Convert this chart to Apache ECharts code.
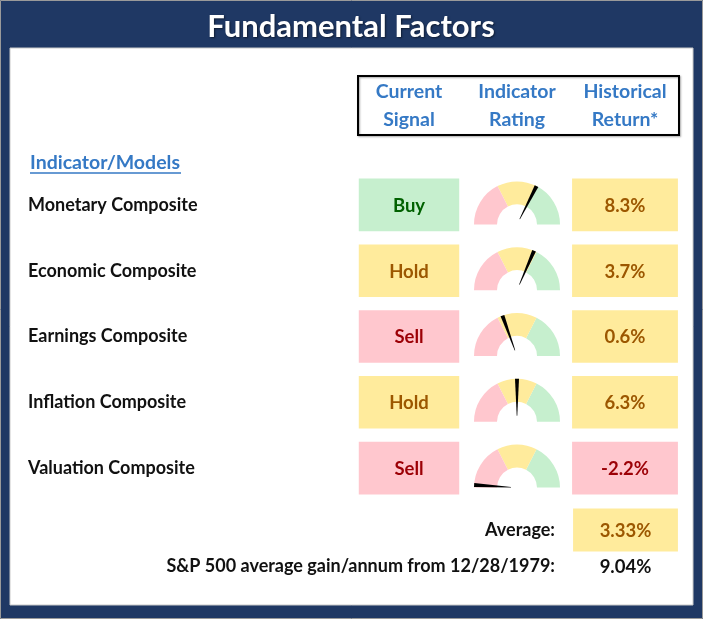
<!DOCTYPE html>
<html><head><meta charset="utf-8">
<script src="https://cdn.jsdelivr.net/npm/echarts@6.0.0/dist/echarts.min.js"></script>
<style>html,body{margin:0;padding:0;background:#1F3864}#c{width:703px;height:619px}</style>
</head><body><div id="c"></div>
<script>
// ---------- data ----------
const title = 'Fundamental Factors';
const headers = ['Current\nSignal', 'Indicator\nRating', 'Historical\nReturn*'];
const sectionLabel = 'Indicator/Models';
const indicators = ['Monetary Composite', 'Economic Composite', 'Earnings Composite', 'Inflation Composite', 'Valuation Composite'];
const signals = ['Buy', 'Hold', 'Sell', 'Hold', 'Sell'];
const ratings = [65, 63, 39, 50, 2];
const returns = [8.3, 3.7, 0.6, 6.3, -2.2];
const ratingBands = [0.35, 0.65, 1];
const footerLabels = ['Average:', 'S&P 500 average gain/annum from 12/28/1979:'];
const footerValues = ['3.33%', '9.04%'];

// ---------- style ----------
const FONT = 'Lato';
const NAVY = '#1F3864';
const BLUE = '#3579C5';
const PAL = {
  green: { fill: '#C6EFCE', text: '#006100' },
  yellow: { fill: '#FFEB9C', text: '#9C5700' },
  red: { fill: '#FFC7CE', text: '#9C0006' }
};
const signalPal = { Buy: 'green', Hold: 'yellow', Sell: 'red' };

const chart = echarts.init(document.getElementById('c'));

const mainMeta = [];
const mainData = [];
signals.forEach((s, i) => {
  const p = PAL[signalPal[s]];
  mainData.push([0, i]);
  mainMeta.push({ text: s, fill: p.fill, color: p.text, wr: 0.93 });
});
returns.forEach((r, i) => {
  const p = r < 0 ? PAL.red : PAL.yellow;
  mainData.push([2, i]);
  mainMeta.push({ text: r.toFixed(1) + '%', fill: p.fill, color: p.text, wr: 0.98 });
});
const footMeta = [
  { text: footerValues[0], fill: PAL.yellow.fill, color: PAL.yellow.text, wr: 0.98, hr: 1.2 },
  { text: footerValues[1], fill: null, color: '#111', wr: 0.98, hr: 1.0 }
];
const footData = [[0, 0], [0, 1]];

function cellRenderer(meta, hrDefault) {
  return function (params, api) {
    const m = meta[params.dataIndex];
    const c = api.coord([api.value(0), api.value(1)]);
    const s = api.size([1, 1]);
    const w = s[0] * m.wr, h = s[1] * (m.hr || hrDefault);
    const children = [];
    if (m.fill) children.push({ type: 'rect', shape: { x: c[0] - w / 2, y: c[1] - h / 2, width: w, height: h }, style: { fill: m.fill } });
    children.push({ type: 'text', x: c[0], y: c[1] + 1, style: { text: m.text, fill: m.color, font: 'bold 18.5px ' + FONT, align: 'center', verticalAlign: 'middle' } });
    return { type: 'group', children };
  };
}

const hidden = { axisLine: { show: false }, axisTick: { show: false }, splitLine: { show: false } };

const option = {
  animation: false,
  backgroundColor: NAVY,
  graphic: [
    { type: 'rect', z: 0, shape: { x: 0.5, y: 0.5, width: 702, height: 618 }, style: { fill: 'none', stroke: '#9a9a9a', lineWidth: 1 } },
    { type: 'rect', z: 0, shape: { x: 10, y: 48, width: 683, height: 557 }, style: { fill: '#fff', stroke: '#c9c9c9', lineWidth: 1 } },
    { type: 'text', z: 1, x: 351, y: 27, style: { text: title, fill: '#fff', font: 'bold 31px ' + FONT, align: 'center', verticalAlign: 'middle', textShadowColor: 'rgba(0,0,0,0.5)', textShadowBlur: 2, textShadowOffsetX: 1, textShadowOffsetY: 1 } },
    { type: 'rect', z: 1, shape: { x: 358, y: 76, width: 321, height: 59 }, style: { fill: 'none', stroke: '#000', lineWidth: 2, shadowColor: 'rgba(0,0,0,0.35)', shadowBlur: 2, shadowOffsetX: 1, shadowOffsetY: 1 } },
    { type: 'text', z: 1, x: 30, y: 163, style: { text: sectionLabel, fill: BLUE, font: 'bold 19.5px ' + FONT, align: 'left', verticalAlign: 'middle' } },
    { type: 'line', z: 1, shape: { x1: 30, y1: 173, x2: 181, y2: 173 }, style: { stroke: BLUE, lineWidth: 1.3 } }
  ],
  grid: [
    { left: 355, right: 24, top: 172, height: 329, outerBoundsMode: 'none', containLabel: false },
    { left: 572, right: 24, top: 512, height: 72, outerBoundsMode: 'none', containLabel: false }
  ],
  xAxis: [
    Object.assign({ type: 'category', gridIndex: 0, position: 'top', data: headers,
      axisLabel: { color: BLUE, fontWeight: 'bold', fontSize: 19.5, fontFamily: FONT, lineHeight: 28, margin: 38, interval: 0 } }, hidden),
    Object.assign({ type: 'category', gridIndex: 1, data: ['ret'], axisLabel: { show: false } }, hidden)
  ],
  yAxis: [
    Object.assign({ type: 'category', gridIndex: 0, inverse: true, data: indicators,
      axisLabel: { align: 'left', margin: 327, color: '#111', fontWeight: 'bold', fontSize: 18, fontFamily: FONT, interval: 0 } }, hidden),
    Object.assign({ type: 'category', gridIndex: 1, inverse: true, data: footerLabels,
      axisLabel: { align: 'right', margin: 17, color: '#111', fontWeight: 'bold', fontSize: 18, fontFamily: FONT, interval: 0 } }, hidden)
  ],
  series: [
    { type: 'custom', xAxisIndex: 0, yAxisIndex: 0, data: mainData, renderItem: cellRenderer(mainMeta, 0.8) },
    { type: 'custom', xAxisIndex: 1, yAxisIndex: 1, data: footData, renderItem: cellRenderer(footMeta, 1) }
  ]
};
chart.setOption(option);

// gauges placed at the "Indicator Rating" column of each row
const gaugeSeries = ratings.map((v, i) => {
  const p = chart.convertToPixel({ gridIndex: 0 }, [1, i]);
  return {
    type: 'gauge', center: [p[0], p[1] + 19.5], radius: 43, startAngle: 180, endAngle: 0, min: 0, max: 100,
    axisLine: { lineStyle: { width: 23, color: [[ratingBands[0], PAL.red.fill], [ratingBands[1], PAL.yellow.fill], [ratingBands[2], PAL.green.fill]] } },
    axisTick: { show: false }, splitLine: { show: false }, axisLabel: { show: false },
    pointer: { icon: 'path://M0,0 L10,0 L5.7,100 L4.3,100 Z', length: '86%', width: 4, offsetCenter: [0, -6], itemStyle: { color: '#000' } },
    anchor: { show: false }, title: { show: false }, detail: { show: false }, progress: { show: false },
    data: [{ value: v }]
  };
});
chart.setOption({ series: option.series.concat(gaugeSeries) });
</script>
</body></html>
